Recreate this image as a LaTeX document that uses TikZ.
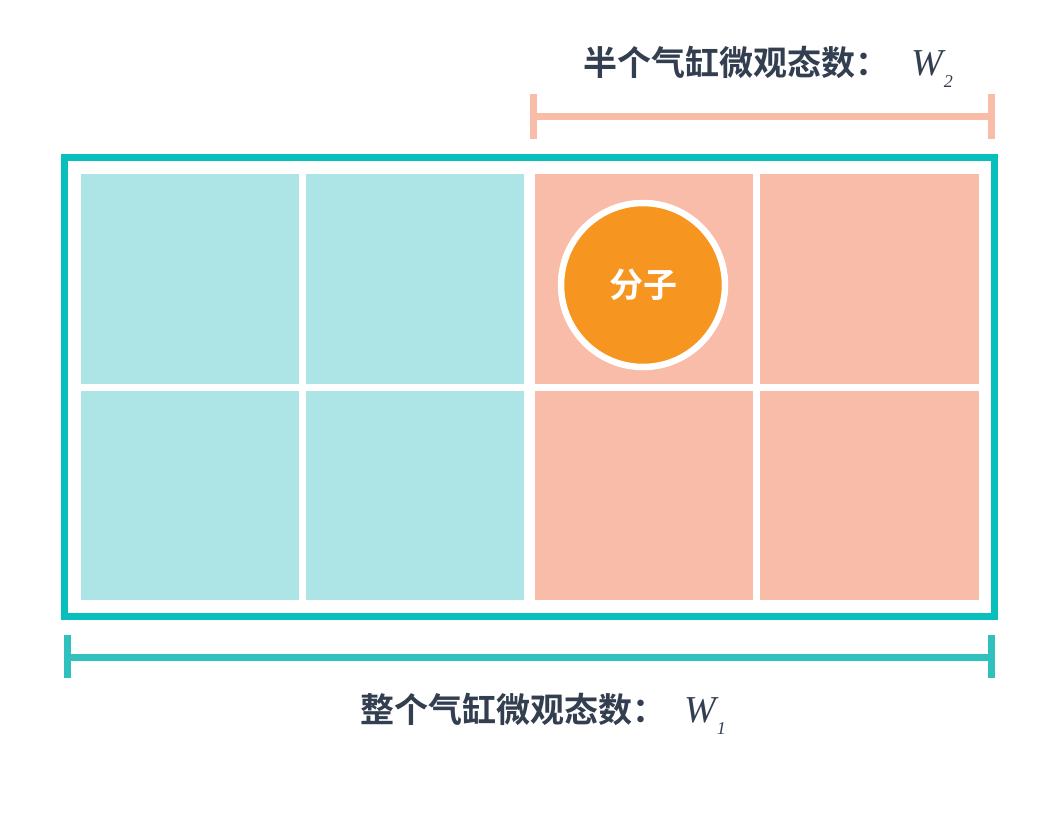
\documentclass[tikz,border=0pt]{standalone}
\usepackage{fontspec}
\newfontfamily\cjkb{Noto Sans CJK SC Bold}
\newfontfamily\tms{Liberation Serif}
\definecolor{frameteal}{HTML}{08BFBD}
\definecolor{barteal}{HTML}{30C1BF}
\definecolor{cellteal}{HTML}{ADE5E6}
\definecolor{cellpink}{HTML}{F8BCA8}
\definecolor{molorange}{HTML}{F79521}
\definecolor{labeldark}{HTML}{333F50}
\tikzset{
  tealcell/.style={fill=cellteal},
  pinkcell/.style={fill=cellpink},
  bracketline/.style={line width=7pt},
  label/.style={inner sep=0pt, anchor=west, text=labeldark, font=\cjkb\fontsize{34}{40}\selectfont},
}
\newcommand{\Wsym}[1]{{\tms\itshape\fontsize{38}{40}\selectfont W\kern1pt\raisebox{-12pt}{\fontsize{18}{20}\selectfont #1}}}
\begin{document}
\begin{tikzpicture}[x=1pt,y=-1pt]
\useasboundingbox[fill=white] (0,0) rectangle (1060,817);
% frame
\draw[frameteal, line width=7pt] (64.5,157) rectangle (994.5,616);
% cells
\fill[tealcell] (81,174) rectangle (299,384);
\fill[tealcell] (306,174) rectangle (524,384);
\fill[pinkcell] (535,174) rectangle (753,384);
\fill[pinkcell] (760,174) rectangle (979,384);
\fill[tealcell] (81,391) rectangle (299,600);
\fill[tealcell] (306,391) rectangle (524,600);
\fill[pinkcell] (535,391) rectangle (753,600);
\fill[pinkcell] (760,391) rectangle (979,600);
% molecule
\node[circle, fill=molorange, draw=white, line width=6.5pt, minimum size=164pt, inner sep=0pt,
      text=white, font=\cjkb\fontsize{34}{38}\selectfont] (mol) at (643,285) {分子};
% top bracket
\coordinate (tl) at (533,116);
\coordinate (tr) at (991,116);
\draw[cellpink, bracketline] (tl) -- (tr);
\draw[cellpink, bracketline] ([yshift=-23pt]tl) -- ([yshift=22pt]tl);
\draw[cellpink, bracketline] ([yshift=-23pt]tr) -- ([yshift=22pt]tr);
% bottom bracket
\coordinate (bl) at (67,657);
\coordinate (br) at (991,657);
\draw[barteal, bracketline] (bl) -- (br);
\draw[barteal, bracketline] ([yshift=-21pt]bl) -- ([yshift=22pt]bl);
\draw[barteal, bracketline] ([yshift=-21pt]br) -- ([yshift=22pt]br);
% labels
\node[label] (top) at (583,67) {半个气缸微观态数：\hspace{22pt}\Wsym{2}};
\node[label] (bottom) at (360,714) {整个气缸微观态数：\hspace{18pt}\Wsym{1}};
\end{tikzpicture}
\end{document}
